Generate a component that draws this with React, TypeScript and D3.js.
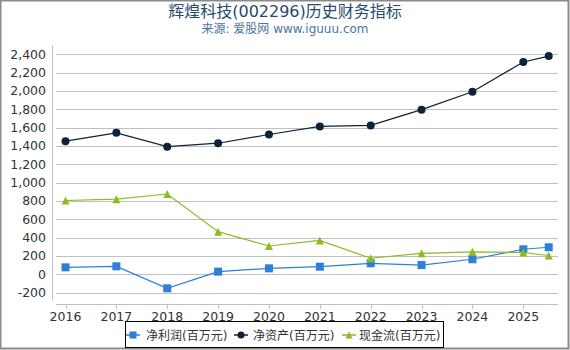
import * as d3 from 'd3';
import React, { useEffect, useRef } from 'react';

// years; the last point is the latest half-year report
const years = [2016, 2017, 2018, 2019, 2020, 2021, 2022, 2023, 2024, 2025, 2025.5];
const netProfit = [76, 87, -153, 29, 65, 83, 120, 101, 164, 273, 295];
const netAssets = [1452, 1543, 1392, 1430, 1525, 1613, 1624, 1796, 1992, 2316, 2381];
const cashFlow = [805, 820, 876, 465, 309, 369, 175, 229, 245, 238, 205];
const yTicks = [-200, 0, 200, 400, 600, 800, 1000, 1200, 1400, 1600, 1800, 2000, 2200, 2400];
const xTicks = [2016, 2017, 2018, 2019, 2020, 2021, 2022, 2023, 2024, 2025];
const seriesNames = ['净利润(百万元)', '净资产(百万元)', '现金流(百万元)'];
const colors = ['#2f7ed8', '#0d233a', '#8bbc21'];

const FONT = '"DejaVu Sans", "Noto Sans CJK SC", sans-serif';

export default function App() {
    const ref = useRef<any>();

    useEffect(() => {
        const width = 570;
        const height = 350;
        const svg = d3.select<any, any>(ref.current);
        svg.selectAll('*').remove();
        svg.attr('width', width).attr('height', height);

        svg.append('rect')
            .attr('x', 0.5).attr('y', 0.5)
            .attr('width', width - 2).attr('height', height - 2)
            .attr('fill', 'white')
            .attr('stroke', '#8a8a8a')
            .attr('stroke-width', 2);

        //title
        svg.append('text')
            .attr('x', 285).attr('y', 17)
            .attr('text-anchor', 'middle')
            .attr('font-family', FONT)
            .attr('font-size', 16)
            .attr('fill', '#274b6d')
            .text('辉煌科技(002296)历史财务指标');
        svg.append('text')
            .attr('x', 285).attr('y', 33)
            .attr('text-anchor', 'middle')
            .attr('font-family', FONT)
            .attr('font-size', 12)
            .attr('fill', '#4d759e')
            .text('来源: 爱股网 www.iguuu.com');

        const plot = { left: 52, right: 558, top: 45, bottom: 304 };

        const xScale = d3.scaleLinear().domain([2016, 2025]).range([65.5, 523.3]);
        const yScale = d3.scaleLinear().domain([0, 2400]).range([274.3, 54.3]);

        //grid
        svg.append('g').selectAll('line').data(yTicks).join('line')
            .attr('x1', plot.left + 4).attr('x2', plot.right)
            .attr('y1', (d) => Math.round(yScale(d)) + 0.5)
            .attr('y2', (d) => Math.round(yScale(d)) + 0.5)
            .attr('stroke', '#c0c0c0')
            .attr('stroke-width', 1);

        //axes lines
        svg.append('line')
            .attr('x1', plot.left + 0.5).attr('x2', plot.left + 0.5)
            .attr('y1', plot.top).attr('y2', plot.bottom - 4)
            .attr('stroke', '#c0c0c0');
        svg.append('line')
            .attr('x1', plot.left + 4).attr('x2', plot.right)
            .attr('y1', plot.bottom + 0.5).attr('y2', plot.bottom + 0.5)
            .attr('stroke', '#c0c0c0');

        //y labels
        const fmt = d3.format(',');
        svg.append('g').selectAll('text').data(yTicks).join('text')
            .attr('x', 46)
            .attr('y', (d) => yScale(d) + 4.5)
            .attr('text-anchor', 'end')
            .attr('font-family', FONT)
            .attr('font-size', 12.5)
            .attr('fill', '#333')
            .text((d) => fmt(d).replace('−', '-'));

        //x ticks + labels
        svg.append('g').selectAll('line').data(xTicks).join('line')
            .attr('x1', (d) => Math.round(xScale(d)) + 0.5)
            .attr('x2', (d) => Math.round(xScale(d)) + 0.5)
            .attr('y1', plot.bottom)
            .attr('y2', plot.bottom + 5)
            .attr('stroke', '#c0c0c0');
        svg.append('g').selectAll('text').data(xTicks).join('text')
            .attr('x', (d) => xScale(d))
            .attr('y', plot.bottom + 17)
            .attr('text-anchor', 'middle')
            .attr('font-family', FONT)
            .attr('font-size', 12.5)
            .attr('fill', '#333')
            .text((d) => d);

        const allSeries = [netProfit, netAssets, cashFlow];
        const line = d3.line<number>()
            .x((_, i) => xScale(years[i]))
            .y((d) => yScale(d));

        const drawMarker = (g: any, kind: number, x: number, y: number, color: string, s: number) => {
            if (kind === 0) {
                g.append('rect')
                    .attr('x', x - s).attr('y', y - s)
                    .attr('width', s * 2).attr('height', s * 2)
                    .attr('fill', color);
            } else if (kind === 1) {
                g.append('circle')
                    .attr('cx', x).attr('cy', y).attr('r', s)
                    .attr('fill', color);
            } else {
                g.append('path')
                    .attr('d', `M${x},${y - s}L${x + s},${y + s}L${x - s},${y + s}Z`)
                    .attr('fill', color);
            }
        };

        allSeries.forEach((values, k) => {
            const g = svg.append('g');
            g.append('path')
                .attr('d', line(values))
                .attr('fill', 'none')
                .attr('stroke', colors[k])
                .attr('stroke-width', 1.2);
            values.forEach((v, i) => {
                drawMarker(g, k, xScale(years[i]), yScale(v), colors[k], 4);
            });
        });

        //legend
        const legend = svg.append('g');
        legend.append('rect')
            .attr('x', 125.5).attr('y', 321.5)
            .attr('width', 318).attr('height', 26)
            .attr('fill', 'white')
            .attr('stroke', '#000')
            .attr('stroke-width', 1);
        const markerX = [133, 241, 349];
        const textX = [146, 253, 359];
        seriesNames.forEach((name, k) => {
            const mx = markerX[k];
            const cy = 335;
            legend.append('line')
                .attr('x1', mx - 7).attr('x2', mx + 7)
                .attr('y1', cy).attr('y2', cy)
                .attr('stroke', colors[k])
                .attr('stroke-width', 1.5);
            drawMarker(legend, k, mx, cy, colors[k], 3.5);
            legend.append('text')
                .attr('x', textX[k])
                .attr('y', cy + 4.5)
                .attr('font-family', FONT)
                .attr('font-size', 12)
                .attr('fill', '#333')
                .text(name);
        });
    });

    return (
        <svg ref={ref} style={{ position: 'absolute', left: 0, top: 0, display: 'block' }}></svg>
    );
}
